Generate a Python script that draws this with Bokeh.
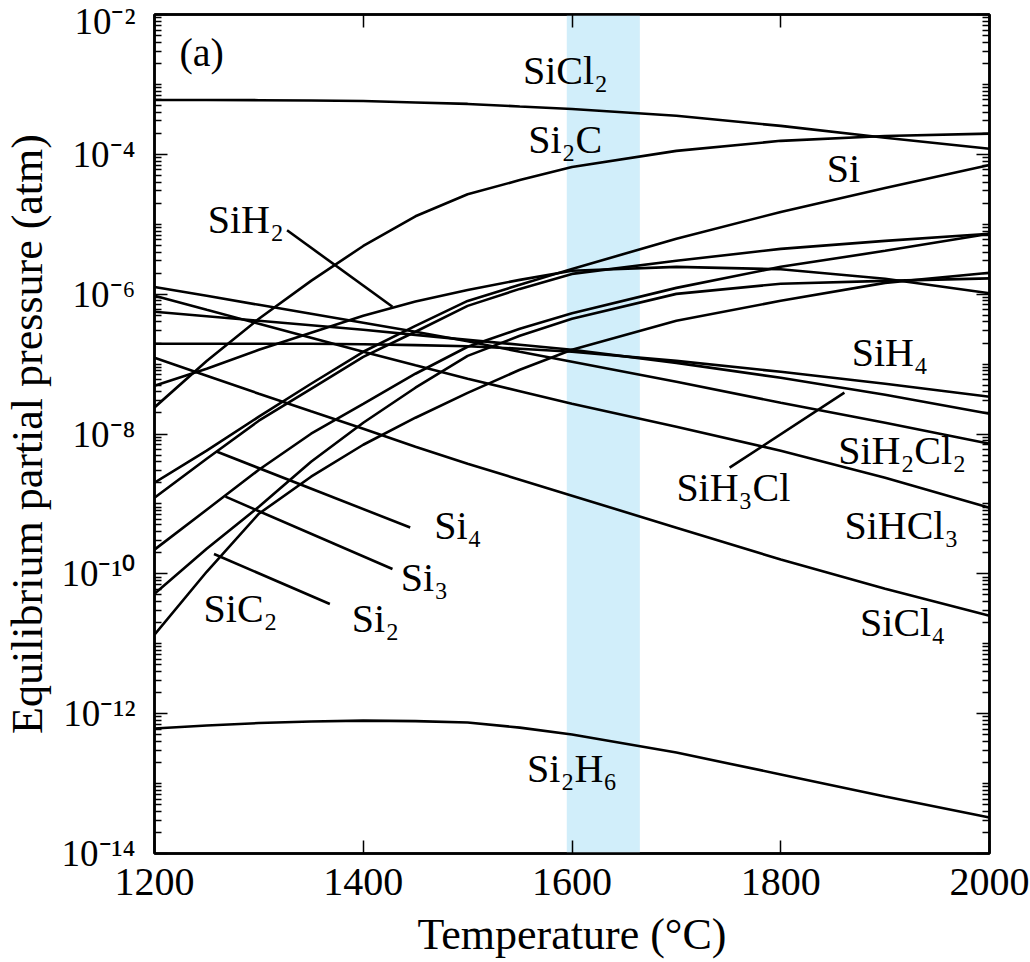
from bokeh.plotting import figure
from bokeh.models import (LinearAxis, LogAxis, FixedTicker, Range1d, BoxAnnotation,
                          ColumnDataSource, CustomLabelingPolicy)
from bokeh.embed import file_html
from bokeh.resources import INLINE
from bokeh.core.properties import value

# ---------------- data ----------------
T = [1200, 1250, 1300, 1350, 1400, 1450, 1500, 1550, 1600, 1700, 1800, 1900, 2000]

SiCl2 = [6.0e-4, 5.98e-4, 5.95e-4, 5.9e-4, 5.8e-4, 5.52e-4, 5.26e-4, 4.84e-4, 4.46e-4, 3.56e-4, 2.55e-4, 1.73e-4, 1.2e-4]
Si2C = [2.40e-8, 1.11e-7, 4.44e-7, 1.55e-6, 4.89e-6, 1.30e-5, 2.69e-5, 4.28e-5, 6.6e-5, 1.12e-4, 1.56e-4, 1.83e-4, 1.98e-4]
Si = [2.01e-9, 5.77e-9, 1.77e-8, 5.23e-8, 1.50e-7, 3.52e-7, 8.0e-7, 1.36e-6, 2.30e-6, 6.18e-6, 1.50e-5, 3.31e-5, 7.06e-5]
SiH2 = [4.9e-8, 8.57e-8, 1.60e-7, 2.80e-7, 4.9e-7, 7.87e-7, 1.15e-6, 1.60e-6, 2.16e-6, 2.46e-6, 2.27e-6, 1.66e-6, 1.03e-6]
Si4 = [1.23e-9, 4.43e-9, 1.55e-8, 4.43e-8, 1.27e-7, 2.9e-7, 6.8e-7, 1.19e-6, 1.95e-6, 3.0e-6, 4.45e-6, 5.78e-6, 7.3e-6]
Si3 = [2.22e-10, 8.27e-10, 3.08e-9, 1.01e-8, 2.70e-8, 7.28e-8, 1.77e-7, 3.2e-7, 5.32e-7, 1.23e-6, 2.46e-6, 4.17e-6, 7.3e-6]
Si2 = [5.2e-11, 2.29e-10, 9.1e-10, 4.0e-9, 1.45e-8, 4.59e-8, 1.31e-7, 2.54e-7, 4.44e-7, 1.01e-6, 1.41e-6, 1.55e-6, 1.68e-6]
SiC2 = [1.35e-11, 1.07e-10, 7.24e-10, 2.45e-9, 7.02e-9, 1.71e-8, 3.88e-8, 8.3e-8, 1.60e-7, 4.16e-7, 8.03e-7, 1.45e-6, 2.02e-6]
SiH4 = [1.95e-7, 1.95e-7, 1.95e-7, 1.95e-7, 1.92e-7, 1.87e-7, 1.80e-7, 1.66e-7, 1.50e-7, 1.11e-7, 7.76e-8, 5.23e-8, 3.41e-8]
SiH3Cl = [5.6e-7, 4.82e-7, 4.16e-7, 3.59e-7, 3.09e-7, 2.62e-7, 2.22e-7, 1.89e-7, 1.60e-7, 1.04e-7, 6.37e-8, 3.64e-8, 1.95e-8]
SiH2Cl2 = [1.27e-6, 9.47e-7, 7.04e-7, 5.24e-7, 3.89e-7, 2.90e-7, 2.12e-7, 1.50e-7, 1.08e-7, 5.59e-8, 2.80e-8, 1.45e-8, 7.26e-9]
SiHCl3 = [9.47e-7, 5.97e-7, 3.77e-7, 2.38e-7, 1.50e-7, 9.6e-8, 6.17e-8, 4.08e-8, 2.71e-8, 1.27e-8, 5.77e-9, 2.37e-9, 8.83e-10]
SiCl4 = [1.23e-7, 6.81e-8, 3.77e-8, 2.11e-8, 1.19e-8, 6.58e-9, 3.76e-9, 2.22e-9, 1.31e-9, 4.57e-10, 1.60e-10, 6.14e-11, 2.52e-11]
Si2H6 = [6.12e-13, 6.76e-13, 7.34e-13, 7.71e-13, 7.96e-13, 7.83e-13, 7.46e-13, 6.32e-13, 5.03e-13, 2.78e-13, 1.35e-13, 6.54e-14, 3.28e-14]

series = [SiCl2, Si2C, Si, SiH2, Si4, Si3, Si2, SiC2, SiH4, SiH3Cl, SiH2Cl2, SiHCl3, SiCl4, Si2H6]

# species labels (left x, baseline y)
label_text = ["(a)", "SiCl\u2082", "Si\u2082C", "Si", "SiH\u2082", "SiH\u2084", "SiH\u2083Cl",
              "SiH\u2082Cl\u2082", "SiHCl\u2083", "SiCl\u2084", "Si\u2084", "Si\u2083", "Si\u2082",
              "SiC\u2082", "Si\u2082H\u2086"]
label_T = [1224, 1553, 1558, 1844, 1251, 1868, 1700, 1855, 1861, 1876, 1468, 1436, 1389, 1247, 1557]
label_p = [1.72e-3, 9.5e-4, 1.0e-4, 3.78e-5, 7.2e-6, 8.95e-8, 1.05e-9, 3.5e-9, 2.98e-10,
           1.21e-11, 2.98e-10, 5.43e-11, 1.38e-11, 1.92e-11, 9.9e-14]

# leader lines
lead_T0 = [1327, 1751, 1260, 1268, 1257]
lead_p0 = [8.2e-6, 3.3e-9, 5.57e-9, 1.27e-9, 1.92e-10]
lead_T1 = [1428, 1861, 1445, 1428, 1368]
lead_p1 = [6.6e-7, 3.9e-8, 4.6e-10, 1.17e-10, 3.7e-11]

band_left, band_right = 1595, 1665

x_ticks = [1200, 1400, 1600, 1800, 2000]
y_major = [1e-14, 1e-12, 1e-10, 1e-8, 1e-6, 1e-4, 1e-2]
y_labels = ["10\u207b\u00b9\u2074", "10\u207b\u00b9\u00b2", "10\u207b\u00b9\u2070", "10\u207b\u2078",
            "10\u207b\u2076", "10\u207b\u2074", "10\u207b\u00b2"]

FONT = "Liberation Serif"

y_minor = []
for e in range(-14, -2):
    for m in range(1, 10):
        v = float(f"{m}e{e}")
        if v not in y_major:
            y_minor.append(v)

p = figure(width=1030, height=962, y_axis_type="log",
           x_range=Range1d(1200, 2000), y_range=Range1d(1e-14, 1e-2),
           output_backend="svg", toolbar_location=None,
           min_border_left=148, min_border_right=41, min_border_top=14, min_border_bottom=109)
p.background_fill_color = "white"
p.border_fill_color = "white"
p.outline_line_color = "black"
p.outline_line_width = 2.5
p.xgrid.visible = False
p.ygrid.visible = False

p.add_layout(BoxAnnotation(left=band_left, right=band_right, fill_color="#d1eefa",
                           fill_alpha=1.0, line_alpha=0, level="underlay"))

for s in series:
    p.line(T, s, line_color="black", line_width=2.6)

p.segment(x0=lead_T0, y0=lead_p0, x1=lead_T1, y1=lead_p1, line_color="black", line_width=2.6)

src = ColumnDataSource(dict(x=label_T, y=label_p, t=label_text))
p.text(x="x", y="y", text="t", source=src, text_font=value(FONT), text_font_size="40px",
       text_color="black", text_align="left", text_baseline="alphabetic", y_offset=-15)

xt = FixedTicker(ticks=x_ticks, minor_ticks=[])
yt = FixedTicker(ticks=y_major, minor_ticks=y_minor)

def style(ax, labels=True):
    ax.axis_line_width = 2.5
    ax.axis_line_color = "black"
    ax.major_tick_in = 13
    ax.major_tick_out = 0
    ax.minor_tick_in = 7
    ax.minor_tick_out = 0
    ax.major_tick_line_width = 1.5
    ax.minor_tick_line_width = 1.3
    ax.major_label_text_font = FONT
    ax.major_label_text_color = "black"
    if not labels:
        ax.major_label_policy = CustomLabelingPolicy(code="for (const i of indices) indices.unset(i)")
        ax.major_label_text_font_size = "10px"
        ax.major_label_standoff = 0

xa = p.xaxis[0]
xa.ticker = xt
style(xa)
xa.major_label_text_font_size = "40px"
xa.major_label_standoff = 15
xa.axis_label = "Temperature (\u00b0C)"
xa.axis_label_text_font = FONT
xa.axis_label_text_font_style = "normal"
xa.axis_label_text_font_size = "44px"
xa.axis_label_text_color = "black"
xa.axis_label_standoff = 12

ya = p.yaxis[0]
ya.ticker = yt
style(ya)
ya.major_label_text_font_size = "37px"
ya.major_label_standoff = 19
ya.major_label_overrides = {v: s for v, s in zip(y_major, y_labels)}
ya.axis_label = "Equilibrium partial pressure (atm)"
ya.axis_label_text_font = FONT
ya.axis_label_text_font_style = "normal"
ya.axis_label_text_font_size = "44px"
ya.axis_label_text_color = "black"
ya.axis_label_standoff = 6

top = LinearAxis(ticker=xt)
style(top, labels=False)
p.add_layout(top, "above")
right = LogAxis(ticker=yt)
style(right, labels=False)
p.add_layout(right, "right")

open("out.html", "w").write(file_html(p, INLINE))
